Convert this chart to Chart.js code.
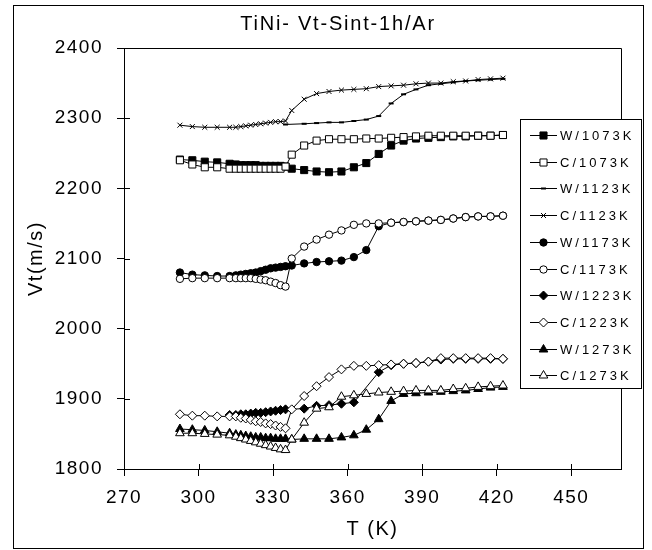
<!DOCTYPE html>
<html>
<head>
<meta charset="utf-8">
<script src="https://cdn.jsdelivr.net/npm/chart.js@4.4.1/dist/chart.umd.min.js"></script>
<style>
  html, body { margin: 0; padding: 0; background: #fff; }
  #wrap { width: 652px; height: 550px; }
</style>
</head>
<body>
<div id="wrap"><canvas id="chart" width="652" height="550"></canvas></div>
<script>
// ===== Data =====
const chartTitle = "TiNi- Vt-Sint-1h/Ar";
const xTitle = "T (K)";
const yTitle = "Vt(m/s)";

// temperature grid (K) shared by every series, null = no point there
const temps = [292.5, 297.5, 302.5, 307.5, 312.5,
    315, 317, 319, 321, 323, 325, 327, 329, 331, 333, 335,
    337.5, 342.5, 347.5, 352.5, 357.5, 362.5, 367.5, 372.5, 377.5, 382.5,
    387.5, 392.5, 397.5, 402.5, 407.5, 412.5, 417.5, 422.5];

const labels = ["W/1073K", "C/1073K", "W/1123K", "C/1123K", "W/1173K",
    "C/1173K", "W/1223K", "C/1223K", "W/1273K", "C/1273K"];

const w1073 = [2241, 2240, 2238, 2237, 2235,
    2234, 2233, 2233, 2233, 2233, 2232, 2232, 2232, 2232, 2232, 2231,
    2228, 2226, 2224, 2223, 2224, 2230, 2236, 2249, 2261, 2268, 2271, 2272, 2273, 2274, 2274, 2275, 2275, 2276];
const c1073 = [2240, 2234, 2230, 2230, 2228,
    2228, 2228, 2228, 2228, 2228, 2228, 2228, 2228, 2228, 2228, 2231,
    2248, 2261, 2268, 2270, 2270, 2270, 2271, 2271, 2272, 2273, 2274, 2275, 2275, 2275, 2275, 2275, 2275, 2276];
const w1123 = [null, null, null, null, null,
    null, null, null, null, null, null, null, null, null, null, 2291,
    null, 2292, 2293, 2294, 2294, 2296, 2298, 2303, 2321, 2334, 2341, 2347, 2349, 2351, 2353, 2354, 2355, 2356];
const c1123 = [2290, 2288, 2287, 2287, 2287,
    2287, 2288, 2289, 2290, 2291, 2292, 2293, 2294, 2295, 2295, 2296,
    2311, 2327, 2335, 2338, 2340, 2341, 2342, 2345, 2346, 2347, 2349, 2350, 2350, 2352, 2353, 2355, 2356, 2357];
const w1173 = [2080, 2077, 2076, 2075, 2075,
    2076, 2077, 2078, 2079, 2080, 2082, 2084, 2086, 2087, 2088, 2089,
    2090, 2093, 2095, 2096, 2097, 2102, 2112, 2146, 2151, 2152, 2153, 2154, 2155, 2157, 2159, 2160, 2160, 2161];
const c1173 = [2071, 2072, 2072, 2072, 2072,
    2072, 2072, 2072, 2072, 2071, 2070, 2069, 2067, 2065, 2062, 2060,
    2100, 2117, 2127, 2134, 2140, 2148, 2150, 2150, 2151, 2152, 2153, 2154, 2155, 2157, 2159, 2160, 2160, 2161];
const w1223 = [null, null, null, null, 1877,
    1877, 1878, 1878, 1879, 1880, 1880, 1881, 1882, 1883, 1884, 1885,
    null, 1886, 1890, 1891, 1893, 1895, null, 1938, 1948, 1950, 1951, 1953, 1956, 1957, 1957, 1957, 1957, 1957];
const c1223 = [1878, 1876, 1876, 1875, 1875,
    1875, 1873, 1872, 1870, 1868, 1867, 1865, 1864, 1862, 1860, 1858,
    1885, 1904, 1918, 1931, 1942, 1947, 1947, 1948, 1949, 1950, 1951, 1953, 1958, 1958, 1958, 1958, 1958, 1957];
const w1273 = [1857, 1856, 1855, 1853, 1851,
    1849, 1848, 1847, 1846, 1845, 1845, 1844, 1844, 1843, 1843, 1843,
    1842, 1843, 1843, 1843, 1845, 1848, 1856, 1871, 1897, 1907, 1908, 1909, 1910, 1911, 1912, 1914, 1916, 1917];
const c1273 = [1851, 1851, 1850, 1849, 1848,
    1846, 1844, 1842, 1840, 1838, 1836, 1834, 1832, 1830, 1828, 1827,
    1842, 1866, 1886, 1888, 1903, 1905, 1907, 1909, 1910, 1911, 1912, 1912, 1912, 1914, 1915, 1917, 1918, 1919];

const seriesValues = [w1073, c1073, w1123, c1123, w1173, c1173, w1223, c1223, w1273, c1273];

// ===== Marker styles (same order as labels) =====
const markerStyles = [
    { style: "rect", radius: 5, fill: "#000", width: 1 },
    { style: "rect", radius: 5, fill: "#fff", width: 1 },
    { style: "line", radius: 2.5, fill: "#000", width: 2 },
    { style: "crossRot", radius: 3.5, fill: "#fff", width: 1 },
    { style: "circle", radius: 3.7, fill: "#000", width: 1 },
    { style: "circle", radius: 3.7, fill: "#fff", width: 1 },
    { style: "rectRot", radius: 4.5, fill: "#000", width: 1 },
    { style: "rectRot", radius: 4.5, fill: "#fff", width: 1 },
    { style: "triangle", radius: 5, fill: "#000", width: 1 },
    { style: "triangle", radius: 5, fill: "#fff", width: 1 }
];

const FONT = '"Liberation Sans", Arial, sans-serif';
const SPACING = "1.5px";

const datasets = labels.map((name, i) => ({
    label: name,
    data: temps.map((t, j) => ({ x: t, y: seriesValues[i][j] })),
    borderColor: "#000",
    borderWidth: 1,
    pointStyle: markerStyles[i].style,
    pointRadius: markerStyles[i].radius,
    pointBackgroundColor: markerStyles[i].fill,
    pointBorderColor: "#000",
    pointBorderWidth: markerStyles[i].width,
    spanGaps: true,
    tension: 0,
    order: labels.length - i // later series on top, as in the original
}));

// ===== Plugins =====
const spacingPlugin = {
    id: "spacing",
    beforeUpdate(chart) { chart.ctx.letterSpacing = SPACING; },
    beforeDraw(chart) { chart.ctx.letterSpacing = SPACING; }
};

const framePlugin = {
    id: "frame",
    beforeDraw(chart) {
        const ctx = chart.ctx;
        ctx.save();
        ctx.fillStyle = "#fff";
        ctx.fillRect(0, 0, chart.width, chart.height);
        ctx.strokeStyle = "#000";
        ctx.lineWidth = 1;
        ctx.strokeRect(13.5, 5.5, 630, 543);
        ctx.restore();
    },
    beforeDatasetsDraw(chart) {
        const { left, right, top, bottom } = chart.chartArea;
        const ctx = chart.ctx;
        ctx.save();
        ctx.strokeStyle = "#000";
        ctx.lineWidth = 1;
        ctx.beginPath();
        ctx.moveTo(Math.round(left) + 0.5, Math.round(top) + 0.5);
        ctx.lineTo(Math.round(right) + 0.5, Math.round(top) + 0.5);
        ctx.lineTo(Math.round(right) + 0.5, Math.round(bottom) + 0.5);
        ctx.stroke();

        // inner half of the crossing tick marks
        const xs = chart.scales.x, ys = chart.scales.y;
        xs.ticks.forEach(t => {
            const px = Math.round(xs.getPixelForValue(t.value)) + 0.5;
            ctx.beginPath();
            ctx.moveTo(px, Math.round(bottom));
            ctx.lineTo(px, Math.round(bottom) - 5);
            ctx.stroke();
        });
        ys.ticks.forEach(t => {
            const py = Math.round(ys.getPixelForValue(t.value)) + 0.5;
            ctx.beginPath();
            ctx.moveTo(Math.round(left), py);
            ctx.lineTo(Math.round(left) + 6, py);
            ctx.stroke();
        });
        ctx.restore();
    }
};

const titlePlugin = {
    id: "topTitle",
    afterDraw(chart) {
        const ctx = chart.ctx;
        ctx.save();
        ctx.fillStyle = "#000";
        ctx.font = "20px " + FONT;
        ctx.letterSpacing = "1.8px";
        ctx.textAlign = "center";
        ctx.textBaseline = "middle";
        ctx.fillText(chartTitle, 338, 24);
        ctx.restore();
    }
};

const legendPlugin = {
    id: "boxLegend",
    afterDraw(chart) {
        const ctx = chart.ctx;
        ctx.save();
        ctx.fillStyle = "#fff";
        ctx.fillRect(520.5, 119.5, 121, 269);
        ctx.strokeStyle = "#000";
        ctx.lineWidth = 1;
        ctx.strokeRect(520.5, 119.5, 121, 269);
        ctx.font = "13px " + FONT;
        ctx.letterSpacing = "3px";
        ctx.textBaseline = "middle";
        chart.data.datasets.forEach((ds, i) => {
            const y = Math.round(135 + i * 26.7) + 0.5;
            ctx.strokeStyle = "#000";
            ctx.lineWidth = 1;
            ctx.beginPath();
            ctx.moveTo(530, y);
            ctx.lineTo(557, y);
            ctx.stroke();
            ctx.fillStyle = ds.pointBackgroundColor;
            ctx.lineWidth = ds.pointBorderWidth;
            if (Chart.helpers && Chart.helpers.drawPoint) {
                Chart.helpers.drawPoint(ctx, {
                    pointStyle: ds.pointStyle,
                    radius: ds.pointRadius,
                    rotation: 0,
                    borderWidth: ds.pointBorderWidth
                }, 543.5, y);
            }
            ctx.fillStyle = "#000";
            ctx.fillText(ds.label, 560, y + 1);
        });
        ctx.restore();
    }
};

// ===== Chart =====
const axisGrid = { display: true, drawOnChartArea: false, drawTicks: true, tickLength: 7, color: "#000", lineWidth: 1 };
const axisBorder = { display: true, color: "#000", width: 1 };
const tickFont = { family: FONT, size: 19 };
const titleFont = { family: FONT, size: 20 };

new Chart(document.getElementById("chart"), {
    type: "line",
    data: { datasets },
    options: {
        responsive: false,
        animation: false,
        devicePixelRatio: 1,
        layout: { padding: { top: 48, right: 31, bottom: 0, left: 0 } },
        plugins: {
            legend: { display: false },
            tooltip: { enabled: false },
            title: { display: false }
        },
        scales: {
            x: {
                type: "linear",
                min: 270,
                max: 470,
                grid: axisGrid,
                border: axisBorder,
                ticks: {
                    stepSize: 30,
                    includeBounds: false,
                    autoSkip: false,
                    maxRotation: 0,
                    color: "#000",
                    font: tickFont,
                    padding: 10,
                    callback: v => String(v)
                },
                title: { display: true, text: xTitle, color: "#000", font: titleFont, padding: { top: 0, bottom: 9 } },
                afterFit(scale) { scale.height = 81; }
            },
            y: {
                type: "linear",
                min: 1800,
                max: 2400,
                grid: axisGrid,
                border: axisBorder,
                ticks: {
                    stepSize: 100,
                    color: "#000",
                    font: tickFont,
                    padding: 14,
                    callback: v => String(v)
                },
                title: { display: true, text: yTitle, color: "#000", font: titleFont, padding: { top: 24, bottom: 0 } },
                afterFit(scale) { scale.width = 124; }
            }
        }
    },
    plugins: [spacingPlugin, framePlugin, titlePlugin, legendPlugin]
});
</script>
</body>
</html>
